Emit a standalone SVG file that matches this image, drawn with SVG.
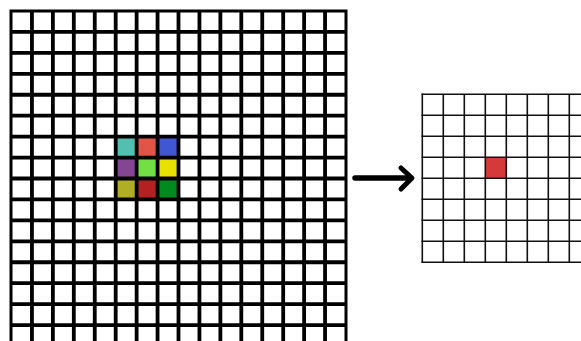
<svg xmlns="http://www.w3.org/2000/svg" width="581" height="341" viewBox="0 0 581 341">
<style>
.big{stroke:#000;stroke-width:3.8;fill:none}
.edge{stroke:#000;stroke-width:3;fill:none}
.small{stroke:#111;stroke-width:1.6;fill:none}
</style>
<rect width="581" height="341" fill="#fff"/>
<g id="input-grid">
<rect x="11" y="11" width="335" height="335" fill="#fff"/>
<rect x="115.7" y="136.6" width="20.94" height="20.94" fill="#52BFB0"/>
<rect x="136.6" y="136.6" width="20.94" height="20.94" fill="#E05548"/>
<rect x="157.6" y="136.6" width="20.94" height="20.94" fill="#4056D2"/>
<rect x="115.7" y="157.6" width="20.94" height="20.94" fill="#844592"/>
<rect x="136.6" y="157.6" width="20.94" height="20.94" fill="#72E042"/>
<rect x="157.6" y="157.6" width="20.94" height="20.94" fill="#E8E000"/>
<rect x="115.7" y="178.5" width="20.94" height="20.94" fill="#B0AE22"/>
<rect x="136.6" y="178.5" width="20.94" height="20.94" fill="#B22222"/>
<rect x="157.6" y="178.5" width="20.94" height="20.94" fill="#008A1E"/>
<path class="big" d="M31.94 11V346 M52.88 11V346 M73.81 11V346 M94.75 11V346 M115.69 11V346 M136.63 11V346 M157.56 11V346 M178.5 11V346 M199.44 11V346 M220.38 11V346 M241.31 11V346 M262.25 11V346 M283.19 11V346 M304.13 11V346 M325.06 11V346"/>
<path class="big" d="M11 31.94H346 M11 52.88H346 M11 73.81H346 M11 94.75H346 M11 115.69H346 M11 136.63H346 M11 157.56H346 M11 178.5H346 M11 199.44H346 M11 220.38H346 M11 241.31H346 M11 262.25H346 M11 283.19H346 M11 304.13H346 M11 325.06H346"/>
<path class="edge" d="M11 9.5V346 M346 9.5V346 M9.5 11H347.5"/>
</g>
<g id="connectors">
<path d="M355 178 H410" stroke="#000" stroke-width="5.5" stroke-linecap="round" fill="none"/>
<path d="M401 168 L412 178 L401 189" stroke="#000" stroke-width="5" stroke-linecap="round" stroke-linejoin="round" fill="none"/>
</g>
<g id="output-grid">
<rect x="422.3" y="94.3" width="168" height="168" fill="#fff"/>
<rect x="485.3" y="157.3" width="21" height="21" fill="#D43A3A"/>
<path class="small" d="M422.3 93.5V263.1 M443.3 94.3V262.3 M464.3 94.3V262.3 M485.3 94.3V262.3 M506.3 94.3V262.3 M527.3 94.3V262.3 M548.3 94.3V262.3 M569.3 94.3V262.3"/>
<path class="small" d="M421.5 94.3H581 M421.5 115.3H581 M421.5 136.3H581 M421.5 157.3H581 M421.5 178.3H581 M421.5 199.3H581 M421.5 220.3H581 M421.5 241.3H581 M421.5 262.3H581"/>
</g>
</svg>
